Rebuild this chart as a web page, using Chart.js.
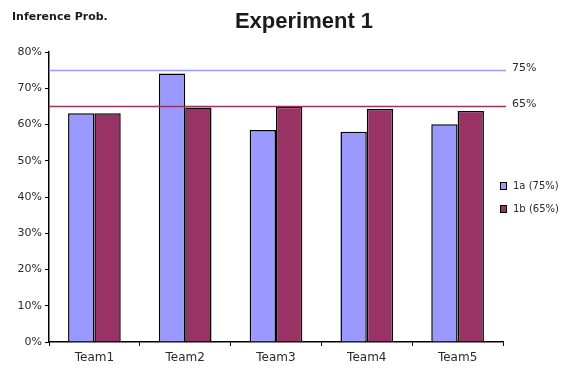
<!DOCTYPE html>
<html>
<head>
<meta charset="utf-8">
<script src="https://cdn.jsdelivr.net/npm/chart.js@4/dist/chart.umd.min.js"></script>
<style>
  html, body { margin: 0; padding: 0; background: #fff; }
  #wrap { width: 568px; height: 369px; position: relative; }
</style>
</head>
<body>
<div id="wrap"><canvas id="c" width="568" height="369"></canvas></div>
<script>
// Inference probability per team, in percent
const teams = ['Team1', 'Team2', 'Team3', 'Team4', 'Team5'];
const series1a = [63.1, 74.1, 58.5, 58.0, 60.1];
const series1b = [63.1, 64.7, 64.9, 64.3, 63.7];
const seriesNames = ['1a (75%)', '1b (65%)'];
const targetValues = [75, 65];
const targetLabels = ['75%', '65%'];
const yTicks = [0, 10, 20, 30, 40, 50, 60, 70, 80];

const colA = '#9999ff';
const colB = '#993366';
const SANS = '"Liberation Sans", Arial, sans-serif';
const WIDE = '"DejaVu Sans", Verdana, sans-serif';

// Target lines, their labels, the title, the axis caption and the legend
const extras = {
  id: 'extras',
  afterDatasetsDraw(chart) {
    const { ctx, chartArea, scales } = chart;
    const y = scales.y;
    const colors = [colA, colB];
    ctx.save();
    targetValues.forEach((v, i) => {
      const py = Math.round(y.getPixelForValue(v)) + 0.5;
      ctx.strokeStyle = colors[i];
      ctx.lineWidth = 1.5;
      ctx.beginPath();
      ctx.moveTo(chartArea.left, py);
      ctx.lineTo(chartArea.right + 3, py);
      ctx.stroke();
      ctx.fillStyle = '#2a2a2a';
      ctx.font = '11px ' + WIDE;
      ctx.textAlign = 'left';
      ctx.textBaseline = 'middle';
      ctx.fillText(targetLabels[i], chartArea.right + 9, py - 2);
    });

    // title
    ctx.fillStyle = '#1a1a1a';
    ctx.font = 'bold 22px ' + SANS;
    ctx.textAlign = 'center';
    ctx.textBaseline = 'middle';
    ctx.fillText('Experiment 1', 304, 22);

    // axis caption
    ctx.font = 'bold 11px ' + WIDE;
    ctx.textAlign = 'left';
    ctx.textBaseline = 'alphabetic';
    ctx.fillText('Inference Prob.', 12, 20);

    // legend
    ctx.font = '10px ' + WIDE;
    ctx.textBaseline = 'middle';
    const legendY = [186, 209];
    seriesNames.forEach((name, i) => {
      ctx.fillStyle = colors[i];
      ctx.fillRect(500, legendY[i] - 3, 6, 6);
      ctx.strokeStyle = '#000';
      ctx.lineWidth = 1;
      ctx.strokeRect(500.5, legendY[i] - 3.5, 6, 7);
      ctx.fillStyle = '#2a2a2a';
      ctx.fillText(name, 513, legendY[i]);
    });
    ctx.restore();
  }
};

new Chart(document.getElementById('c'), {
  type: 'bar',
  data: {
    labels: teams,
    datasets: [
      { label: seriesNames[0], data: series1a, backgroundColor: colA, borderColor: '#000', borderWidth: 1.5, borderSkipped: 'bottom' },
      { label: seriesNames[1], data: series1b, backgroundColor: colB, borderColor: '#000', borderWidth: 1.5, borderSkipped: 'bottom' }
    ]
  },
  options: {
    responsive: false,
    animation: false,
    events: [],
    layout: { padding: { top: 52, right: 65, left: 0, bottom: 0 } },
    plugins: {
      legend: { display: false },
      title: { display: false },
      tooltip: { enabled: false }
    },
    datasets: { bar: { categoryPercentage: 0.58, barPercentage: 1.0 } },
    scales: {
      x: {
        offset: true,
        grid: { offset: true, drawOnChartArea: false, drawTicks: true, tickLength: 4, color: '#000' },
        border: { color: '#000', width: 1.5 },
        ticks: { color: '#2a2a2a', font: { family: WIDE, size: 12 }, padding: 5 },
        afterFit(s) { s.height = 27; }
      },
      y: {
        min: 0,
        max: 80,
        afterBuildTicks(s) { s.ticks = yTicks.map(v => ({ value: v })); },
        grid: { drawOnChartArea: false, drawTicks: true, tickLength: 4, color: '#000' },
        border: { color: '#000', width: 1.5 },
        ticks: { color: '#2a2a2a', font: { family: WIDE, size: 11 }, padding: 3, callback: v => v + '%' },
        afterFit(s) { s.width = 49; }
      }
    }
  },
  plugins: [extras]
});
</script>
</body>
</html>
